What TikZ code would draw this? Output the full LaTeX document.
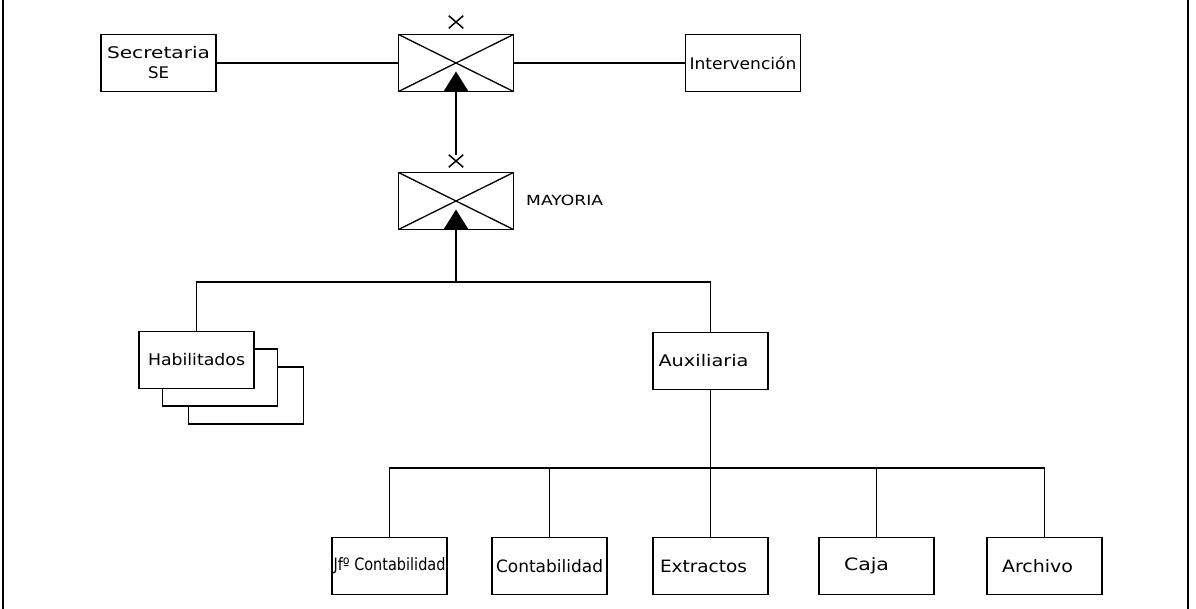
\documentclass[tikz,border=0pt]{standalone}
\usepackage{fontspec}
\usepackage{graphicx}
\usetikzlibrary{shapes.misc}
\newfontfamily\hand{DejaVu Sans}
% set a word to a given width, keeping its height
\newcommand\fitw[2]{\resizebox{#1}{\height}{#2}}

\tikzset{
  line/.style={line width=1.6pt},
  unit/.style={draw, line width=1.6pt, fill=white, minimum width=115pt, minimum height=57pt,
    inner sep=0pt, font=\hand\fontsize{16}{20}\selectfont, align=center},
  lowunit/.style={unit, font=\hand\fontsize{17}{20}\selectfont},
  xbox/.style={draw, line width=1.6pt, minimum width=115pt, minimum height=57pt, inner sep=0pt,
    path picture={
      \draw[line width=1.3pt]
        (path picture bounding box.north west) -- (path picture bounding box.south east)
        (path picture bounding box.south west) -- (path picture bounding box.north east);
      \fill (path picture bounding box.south) ++(-12.5pt,0pt) -- ++(12.5pt,20pt) -- ++(12.5pt,-20pt) -- cycle;
    }},
  mark x/.style={cross out, draw, line width=1.5pt, minimum width=13pt, minimum height=11pt, inner sep=0pt},
  tag/.style={font=\hand\fontsize{14}{16}\selectfont, inner sep=0pt},
}

\begin{document}
\begin{tikzpicture}[x=1pt, y=-1pt]
\useasboundingbox (0,0) rectangle (1196,609);

% page rules left and right
\draw[line width=2.2pt] (3,0) -- (3,609);
\draw[line width=2.2pt] (1188,0) -- (1188,609);

% top level
\node[unit] (sec) at (158.5,63) {\fitw{103pt}{Secretaria}\\\fitw{21pt}{SE}};
\node[xbox] (topx) at (456,63) {};
\node[mark x] (mtop) at (456,22) {};
\node[unit] (inter) at (743,63) {\fitw{107pt}{Intervención}};

% Mayoría
\node[mark x] (mmid) at (456,161) {};
\node[xbox] (mayor) at (456,201) {};
\node[tag, anchor=west] (lblmay) at (526,200) {\fitw{77pt}{MAYORIA}};

% Habilitados (stacked sheets)
\node[unit] (sh3) at (246,395.5) {};
\node[unit] (sh2) at (220,377.5) {};
\node[unit] (habil) at (196.5,360) {\fitw{97pt}{Habilitados}};

% Auxiliaría
\node[unit] (aux) at (710.5,361) {\hspace*{-14pt}\fitw{90pt}{Auxiliaria}};

% sections under Auxiliaría
\node[lowunit] (jfc) at (389.5,566) {\fitw{112pt}{Jfº Contabilidad}};
\node[lowunit] (cont) at (549.5,566) {\fitw{107pt}{Contabilidad}};
\node[lowunit] (extr) at (710.5,566) {\hspace*{-14pt}\fitw{87pt}{Extractos}};
\node[lowunit] (caja) at (876.5,566) {\hspace*{-20pt}\fitw{45pt}{Caja}};
\node[lowunit] (arch) at (1044.5,566) {\hspace*{-14pt}\fitw{71pt}{Archivo}};

% junction points
\coordinate (b1) at (456,282);
\coordinate (b2) at (710.5,468);

% connectors
\draw[line] (sec.east) -- (topx.west);
\draw[line] (topx.east) -- (inter.west);
\draw[line] (topx.south) -- (mmid.north);
\draw[line] (mayor.south) -- (b1);
\draw[line] (habil.north) |- (b1) -| (aux.north);
\draw[line] (aux.south) -- (b2);
\draw[line] (jfc.north) |- (b2) -| (arch.north);
\draw[line] (cont.north) -- (cont.north |- b2);
\draw[line] (extr.north) -- (b2);
\draw[line] (caja.north) -- (caja.north |- b2);
\end{tikzpicture}
\end{document}
